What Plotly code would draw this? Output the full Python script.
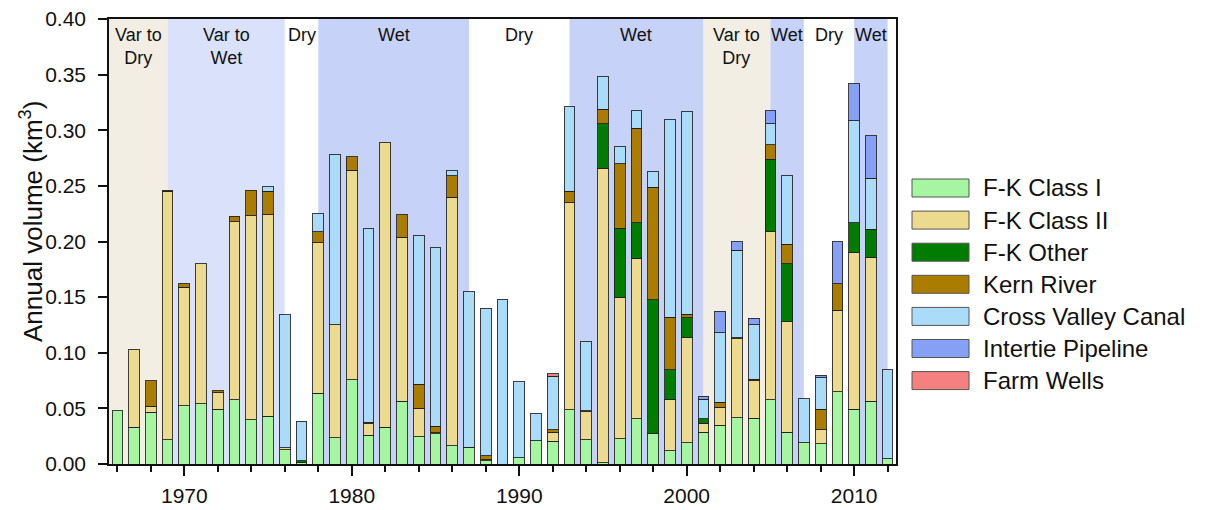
import plotly.graph_objects as go

years = list(range(1966, 2013))

fk_class1 = [0.048, 0.033, 0.0465, 0.022, 0.0525, 0.054, 0.049, 0.0577, 0.040, 0.043,
             0.0126, 0.001, 0.0637, 0.0234, 0.0757, 0.026, 0.033, 0.0565, 0.0246, 0.027,
             0.0165, 0.015, 0.003, 0.0, 0.0054, 0.021, 0.0204, 0.0486, 0.022, 0.001,
             0.0225, 0.0408, 0.0276, 0.012, 0.019, 0.0285, 0.035, 0.0414, 0.041, 0.0577,
             0.0285, 0.019, 0.018, 0.065, 0.049, 0.0565, 0.0045]
fk_class2 = [0.0, 0.070, 0.0055, 0.223, 0.1065, 0.126, 0.015, 0.160, 0.183, 0.181,
             0.0018, 0.0, 0.1353, 0.1016, 0.1883, 0.010, 0.256, 0.1475, 0.0254, 0.001,
             0.2231, 0.0, 0.001, 0.0, 0.0, 0.0, 0.0081, 0.1864, 0.025, 0.2647,
             0.1275, 0.1442, 0.0, 0.046, 0.0945, 0.0081, 0.016, 0.0712, 0.034, 0.151,
             0.0995, 0.0, 0.0126, 0.073, 0.141, 0.1295, 0.0]
fk_other = [0.0, 0.0, 0.0, 0.0, 0.0, 0.0, 0.0, 0.0, 0.0, 0.0,
            0.0, 0.002, 0.0, 0.0, 0.0, 0.0, 0.0, 0.0, 0.0, 0.0,
            0.0, 0.0, 0.0, 0.0, 0.0, 0.0, 0.0, 0.0, 0.0, 0.0403,
            0.0617, 0.032, 0.1201, 0.0267, 0.018, 0.0039, 0.0, 0.0, 0.0, 0.0653,
            0.052, 0.0, 0.0, 0.0, 0.0268, 0.025, 0.0]
kern_river = [0.0, 0.0, 0.023, 0.001, 0.003, 0.0, 0.002, 0.005, 0.023, 0.021,
              0.0, 0.0, 0.0097, 0.0, 0.012, 0.0015, 0.0, 0.020, 0.0215, 0.006,
              0.0194, 0.0, 0.0035, 0.0, 0.0, 0.0, 0.0021, 0.0103, 0.001, 0.013,
              0.058, 0.085, 0.1009, 0.0473, 0.003, 0.0, 0.0046, 0.0009, 0.001, 0.0128,
              0.0176, 0.0, 0.0184, 0.024, 0.0, 0.0, 0.0]
cross_valley = [0.0, 0.0, 0.0, 0.0, 0.0, 0.0, 0.0, 0.0, 0.0, 0.004,
                0.1196, 0.0355, 0.0163, 0.153, 0.0, 0.1742, 0.0, 0.0, 0.1335, 0.161,
                0.005, 0.140, 0.1325, 0.148, 0.0686, 0.024, 0.0484, 0.0757, 0.062, 0.029,
                0.0159, 0.016, 0.0142, 0.178, 0.1825, 0.0176, 0.0624, 0.0785, 0.049, 0.0192,
                0.0614, 0.0396, 0.0285, 0.0, 0.0916, 0.0458, 0.0802]
intertie = [0.0] * 35 + [0.003, 0.0195, 0.008, 0.006, 0.0114,
                         0.0, 0.0, 0.0021, 0.038, 0.0336, 0.0382, 0.0]
farm_wells = [0.0] * 26 + [0.002] + [0.0] * 20

series_names = ["F-K Class I", "F-K Class II", "F-K Other", "Kern River",
                "Cross Valley Canal", "Intertie Pipeline", "Farm Wells"]
series_values = [fk_class1, fk_class2, fk_other, kern_river, cross_valley, intertie, farm_wells]
series_colors = ["#a6f5a0", "#ecda8f", "#007d00", "#aa7d00", "#aadcfa", "#86a0f5", "#f58080"]

# climate periods
period_start = [1965.5, 1969, 1976, 1978, 1987, 1993, 2001, 2005, 2007, 2010]
period_end = [1969, 1976, 1978, 1987, 1993, 2001, 2005, 2007, 2010, 2012]
period_label = ["Var to<br>Dry", "Var to<br>Wet", "Dry", "Wet", "Dry", "Wet",
                "Var to<br>Dry", "Wet", "Dry", "Wet"]
period_kind = ["vardry", "varwet", "dry", "wet", "dry", "wet", "vardry", "wet", "dry", "wet"]
kind_color = {"vardry": "#f2eee4", "varwet": "#d9e1fb", "dry": "#ffffff", "wet": "#c7d2f9"}

W, H = 1212, 510
ML, MR, MT, MB = 109, 316, 19, 46
PW = W - ML - MR
PH = H - MT - MB


def px_x(x):
    return (x - ML) / PW


def px_y(y):
    return (H - MB - y) / PH


FONT = "Liberation Sans, Arial, sans-serif"

fig = go.Figure()
for name, vals, col in zip(series_names, series_values, series_colors):
    fig.add_trace(go.Bar(
        x=years, y=[v if v > 0 else None for v in vals], name=name,
        marker=dict(color=col, line=dict(color="rgba(30,30,30,0.85)", width=1)),
        width=0.64, showlegend=False))

shapes = []
annotations = []
for s, e, lab, k in zip(period_start, period_end, period_label, period_kind):
    shapes.append(dict(type="rect", xref="x", yref="paper", x0=s, x1=e, y0=0, y1=1,
                       fillcolor=kind_color[k], line=dict(width=0), layer="below"))
    annotations.append(dict(x=(s + e) / 2, y=1, xref="x", yref="paper", yanchor="top",
                            yshift=-4, text=lab, showarrow=False,
                            font=dict(family=FONT, size=18, color="#111")))

# custom legend
for i, (name, col) in enumerate(zip(series_names, series_colors)):
    cy = 188 + 32.1 * i
    shapes.append(dict(type="rect", xref="paper", yref="paper",
                       x0=px_x(912), x1=px_x(969), y0=px_y(cy + 9), y1=px_y(cy - 9),
                       fillcolor=col, line=dict(color="#555", width=1)))
    annotations.append(dict(x=px_x(981), y=px_y(cy), xref="paper", yref="paper",
                            xanchor="left", yanchor="middle", text=name, showarrow=False,
                            font=dict(family=FONT, size=24, color="#111")))

annotations.append(dict(x=px_x(31), y=px_y(222), xref="paper", yref="paper",
                        xanchor="center", yanchor="middle", textangle=-90,
                        text="Annual volume (km<sup>3</sup>)", showarrow=False,
                        font=dict(family=FONT, size=26, color="#111")))

fig.update_layout(
    width=W, height=H, margin=dict(l=ML, r=MR, t=MT, b=MB, autoexpand=False),
    barmode="stack", plot_bgcolor="white", paper_bgcolor="white",
    shapes=shapes, annotations=annotations,
    font=dict(family=FONT, color="#111"),
)
fig.update_xaxes(range=[1965.5, 2012.5], tickmode="linear", tick0=1960, dtick=10,
                 ticks="outside", ticklen=10, tickwidth=1.5, tickcolor="#111",
                 showline=True, linecolor="#111", linewidth=1.5, mirror=True,
                 showgrid=False, zeroline=False, tickfont=dict(size=21),
                 ticklabelstandoff=2, automargin=False,
                 minor=dict(tickmode="linear", tick0=1960, dtick=2, ticks="outside",
                            ticklen=6, tickcolor="#111", tickwidth=1.5, showgrid=False))
fig.update_yaxes(range=[0, 0.40], tickmode="linear", tick0=0, dtick=0.05, tickformat=".2f",
                 ticks="outside", ticklen=9, tickwidth=1.5, tickcolor="#111",
                 showline=True, linecolor="#111", linewidth=1.5, mirror=True,
                 showgrid=False, zeroline=False, tickfont=dict(size=21),
                 ticklabelstandoff=8, automargin=False)

fig.write_html("out.html")
